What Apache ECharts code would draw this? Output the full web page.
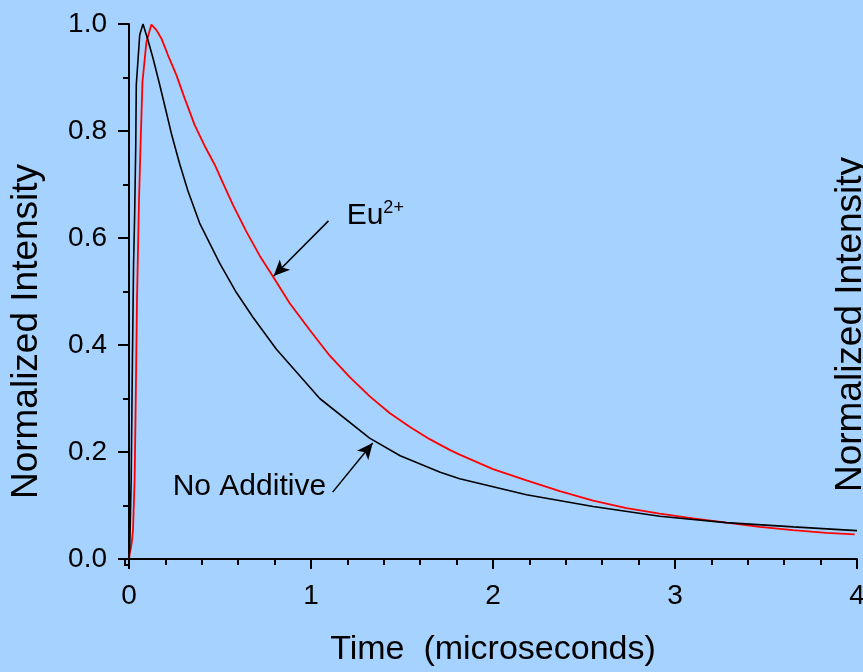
<!DOCTYPE html>
<html>
<head>
<meta charset="utf-8">
<script src="https://cdn.jsdelivr.net/npm/echarts@6/dist/echarts.min.js"></script>
<style>
  html, body { margin: 0; padding: 0; background: #a6d2ff; }
  #chart { width: 863px; height: 672px; }
</style>
</head>
<body>
<div id="chart"></div>
<script>
// time axis (microseconds) and normalized intensity
const noAdditiveTime = [0, 0.004, 0.012, 0.019, 0.025, 0.031, 0.037, 0.04, 0.059, 0.077, 0.104, 0.132, 0.169, 0.205, 0.233, 0.279, 0.324, 0.388, 0.498, 0.59, 0.681, 0.81, 1.048, 1.322, 1.49, 1.71, 1.817, 2.184, 2.55, 2.916, 3.28, 3.65, 3.95, 4.0];
const noAdditiveValues = [0, 0.02, 0.15, 0.38, 0.55, 0.643, 0.77, 0.886, 0.98, 1.0, 0.97, 0.936, 0.886, 0.835, 0.795, 0.738, 0.688, 0.628, 0.553, 0.498, 0.452, 0.392, 0.300, 0.226, 0.193, 0.162, 0.150, 0.120, 0.098, 0.080, 0.068, 0.060, 0.054, 0.053];

const europiumTime = [0, 0.004, 0.015, 0.022, 0.031, 0.037, 0.044, 0.055, 0.063, 0.074, 0.096, 0.123, 0.13, 0.15, 0.178, 0.214, 0.26, 0.306, 0.361, 0.416, 0.471, 0.517, 0.571, 0.645, 0.718, 0.791, 0.883, 0.993, 1.103, 1.213, 1.323, 1.432, 1.542, 1.652, 1.762, 1.817, 2.0, 2.184, 2.367, 2.55, 2.733, 2.916, 3.099, 3.282, 3.465, 3.648, 3.832, 3.987];
const europiumValues = [0, 0.01, 0.03, 0.054, 0.148, 0.297, 0.484, 0.671, 0.768, 0.892, 0.967, 0.999, 1.0, 0.989, 0.973, 0.942, 0.905, 0.861, 0.811, 0.772, 0.737, 0.702, 0.662, 0.612, 0.567, 0.528, 0.478, 0.428, 0.380, 0.340, 0.304, 0.273, 0.247, 0.224, 0.204, 0.195, 0.168, 0.147, 0.127, 0.109, 0.095, 0.085, 0.076, 0.068, 0.060, 0.054, 0.049, 0.046];

const xTicks = [0, 1, 2, 3, 4];
const yTicks = [0.0, 0.2, 0.4, 0.6, 0.8, 1.0];

// annotation anchors in data units: [from, to] for arrows, text anchors
const euArrow = [[1.096, 0.632], [0.795, 0.529]];
const noAddArrow = [[1.119, 0.125], [1.339, 0.217]];
const euLabelAt = [1.196, 0.641];
const noAddLabelAt = [0.240, 0.136];

const font = 'Liberation Sans, Arial, sans-serif';
const ink = '#000000';

const zip = (xs, ys) => xs.map((x, i) => [x, ys[i]]);

const arrowLine = (pts) => ({
  silent: true,
  animation: false,
  symbolSize: [11, 16],
  label: { show: false },
  lineStyle: { color: ink, width: 1.5, type: 'solid' },
  emphasis: { disabled: true },
  data: [[
    { coord: pts[0], symbol: 'none' },
    { coord: pts[1], symbol: 'arrow' },
  ]],
});

const textMark = (at, text, rich) => ({
  silent: true,
  animation: false,
  symbol: 'circle',
  symbolSize: 0,
  label: {
    show: true,
    position: [0, 0],
    align: 'left',
    verticalAlign: 'middle',
    formatter: text,
    color: ink,
    fontFamily: font,
    fontSize: 30,
    rich: rich,
  },
  data: [{ coord: at }],
});

const chart = echarts.init(document.getElementById('chart'));

chart.setOption({
  backgroundColor: '#a6d2ff',
  animation: false,
  grid: { left: 129, right: 6, top: 24, bottom: 113, containLabel: false, outerBoundsMode: 'none' },
  xAxis: {
    type: 'value',
    min: xTicks[0],
    max: xTicks[xTicks.length - 1],
    interval: 1,
    offset: 6,
    name: 'Time  (microseconds)',
    nameLocation: 'middle',
    nameGap: 68,
    nameTextStyle: { color: ink, fontFamily: font, fontSize: 34 },
    axisLine: { show: true, lineStyle: { color: ink, width: 2 } },
    axisTick: { show: true, inside: false, length: 10, lineStyle: { color: ink, width: 2 } },
    minorTick: { show: true, splitNumber: 5, length: 6, lineStyle: { color: ink, width: 2 } },
    axisLabel: { color: ink, fontFamily: font, fontSize: 28, margin: 17, formatter: (v) => String(v) },
    splitLine: { show: false },
  },
  yAxis: [
    {
      type: 'value',
      min: yTicks[0],
      max: yTicks[yTicks.length - 1],
      interval: 0.2,
      offset: 4,
      position: 'left',
      name: 'Normalized Intensity',
      nameLocation: 'middle',
      nameGap: 80,
      nameTextStyle: { color: ink, fontFamily: font, fontSize: 37, padding: [0, 80, 0, 0] },
      axisLine: { show: true, lineStyle: { color: ink, width: 2 } },
      axisTick: { show: true, inside: false, length: 11, lineStyle: { color: ink, width: 2 } },
      minorTick: { show: true, splitNumber: 2, length: 6, lineStyle: { color: ink, width: 2 } },
      axisLabel: { color: ink, fontFamily: font, fontSize: 28, margin: 18, formatter: (v) => v.toFixed(1) },
      splitLine: { show: false },
    },
    {
      type: 'value',
      min: yTicks[0],
      max: yTicks[yTicks.length - 1],
      position: 'right',
      name: 'Normalized Intensity',
      nameLocation: 'middle',
      nameGap: -25,
      nameTextStyle: { color: ink, fontFamily: font, fontSize: 37, padding: [0, 66, 0, 0] },
      axisLine: { show: false },
      axisTick: { show: false },
      axisLabel: { show: false },
      splitLine: { show: false },
    },
  ],
  series: [
    {
      name: 'No Additive',
      type: 'line',
      data: zip(noAdditiveTime, noAdditiveValues),
      showSymbol: false,
      smooth: false,
      lineStyle: { color: '#000000', width: 1.6 },
      z: 3,
      markLine: arrowLine(noAddArrow),
      markPoint: textMark(noAddLabelAt, 'No Additive'),
    },
    {
      name: 'Eu2+',
      type: 'line',
      data: zip(europiumTime, europiumValues),
      showSymbol: false,
      smooth: false,
      lineStyle: { color: '#ff0000', width: 1.8 },
      z: 2,
      markLine: arrowLine(euArrow),
      markPoint: textMark(euLabelAt, '{b|Eu}{s|2+}', {
        b: { fontFamily: font, fontSize: 30, color: ink },
        s: { fontFamily: font, fontSize: 18, color: ink, verticalAlign: 'top', padding: [0, 0, 16, 0] },
      }),
    },
  ],
});

// close the corner between the offset axes (positions come from the axes)
const origin = chart.convertToPixel({ gridIndex: 0 }, [0, 0]);
const yLineX = origin[0] - 4;
const xLineY = origin[1] + 6;
chart.setOption({
  graphic: [
    { type: 'line', silent: true, shape: { x1: yLineX, y1: origin[1], x2: yLineX, y2: xLineY + 1 }, style: { stroke: ink, lineWidth: 2 } },
    { type: 'line', silent: true, shape: { x1: yLineX - 1, y1: xLineY, x2: origin[0], y2: xLineY }, style: { stroke: ink, lineWidth: 2 } },
  ],
});
</script>
</body>
</html>
